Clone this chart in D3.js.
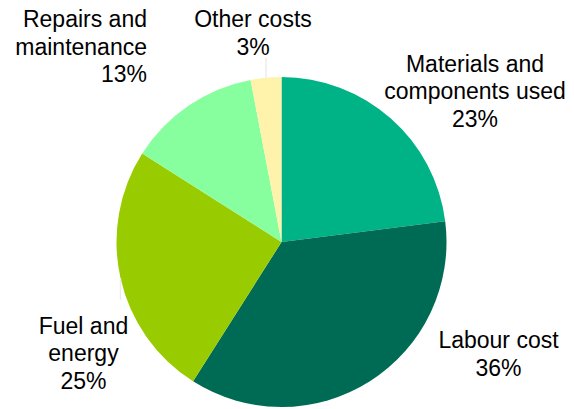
<!DOCTYPE html>
<html>
<head>
<meta charset="utf-8">
<script src="https://cdn.jsdelivr.net/npm/d3@7"></script>
<style>
  html, body { margin: 0; padding: 0; background: #ffffff; }
  svg { display: block; }
  text { font-family: "Liberation Sans", Arial, sans-serif; font-size: 23px; fill: #000000; }
</style>
</head>
<body>
<svg id="chart" width="574" height="409"></svg>
<script>
// Cost structure shares (percent), clockwise from 12 o'clock
const categories = ["Materials and components used", "Labour cost", "Fuel and energy", "Repairs and maintenance", "Other costs"];
const shares = [23, 36, 25, 13, 3];
const colors = ["#00B386", "#006B54", "#99CC00", "#88FF9F", "#FFF2AA"];
// Label text lines for each slice
const labelLines = [
  ["Materials and", "components used"],
  ["Labour cost"],
  ["Fuel and", "energy"],
  ["Repairs and", "maintenance"],
  ["Other costs"]
];

const width = 574, height = 409;
const cx = 281.5, cy = 242, radius = 165;
const lineHeight = 27.5;

// Label placement: anchor point of the first baseline and text alignment
const labelLayout = [
  { x: 475, y: 71.5, anchor: "middle" },
  { x: 498.5, y: 348, anchor: "middle" },
  { x: 83.5, y: 333.5, anchor: "middle" },
  { x: 147, y: 27, anchor: "end" },
  { x: 253, y: 27, anchor: "middle" }
];

const svg = d3.select("#chart");
const g = svg.append("g").attr("transform", `translate(${cx},${cy})`);

const pie = d3.pie().sort(null).value(d => d.value);
const arc = d3.arc().innerRadius(0).outerRadius(radius);
const data = categories.map((c, i) => ({ name: c, value: shares[i], color: colors[i], lines: labelLines[i] }));
const arcs = pie(data);

// Faint leader lines for the two labels that sit close to the pie
const leaders = [
  { i: 4, y0: 58 },
  { i: 2, y0: 300 }
];
leaders.forEach(l => {
  const a = arcs[l.i];
  const mid = (a.startAngle + a.endAngle) / 2;
  const px = Math.sin(mid) * radius, py = -Math.cos(mid) * radius;
  svg.append("line")
    .attr("x1", cx + px).attr("x2", cx + px)
    .attr("y1", l.y0).attr("y2", cy + py)
    .attr("stroke", "#ececec").attr("stroke-width", 1.5);
});

g.selectAll("path.slice")
  .data(arcs)
  .join("path")
  .attr("class", "slice")
  .attr("d", arc)
  .attr("fill", d => d.data.color);

// Labels with category name and percentage
arcs.forEach((a, i) => {
  const lay = labelLayout[i];
  const t = svg.append("text")
    .attr("text-anchor", lay.anchor)
    .attr("x", lay.x).attr("y", lay.y);
  const lines = a.data.lines.concat([a.data.value + "%"]);
  lines.forEach((ln, k) => {
    t.append("tspan")
      .attr("x", lay.x)
      .attr("y", lay.y + k * lineHeight)
      .text(ln);
  });
});
</script>
</body>
</html>
